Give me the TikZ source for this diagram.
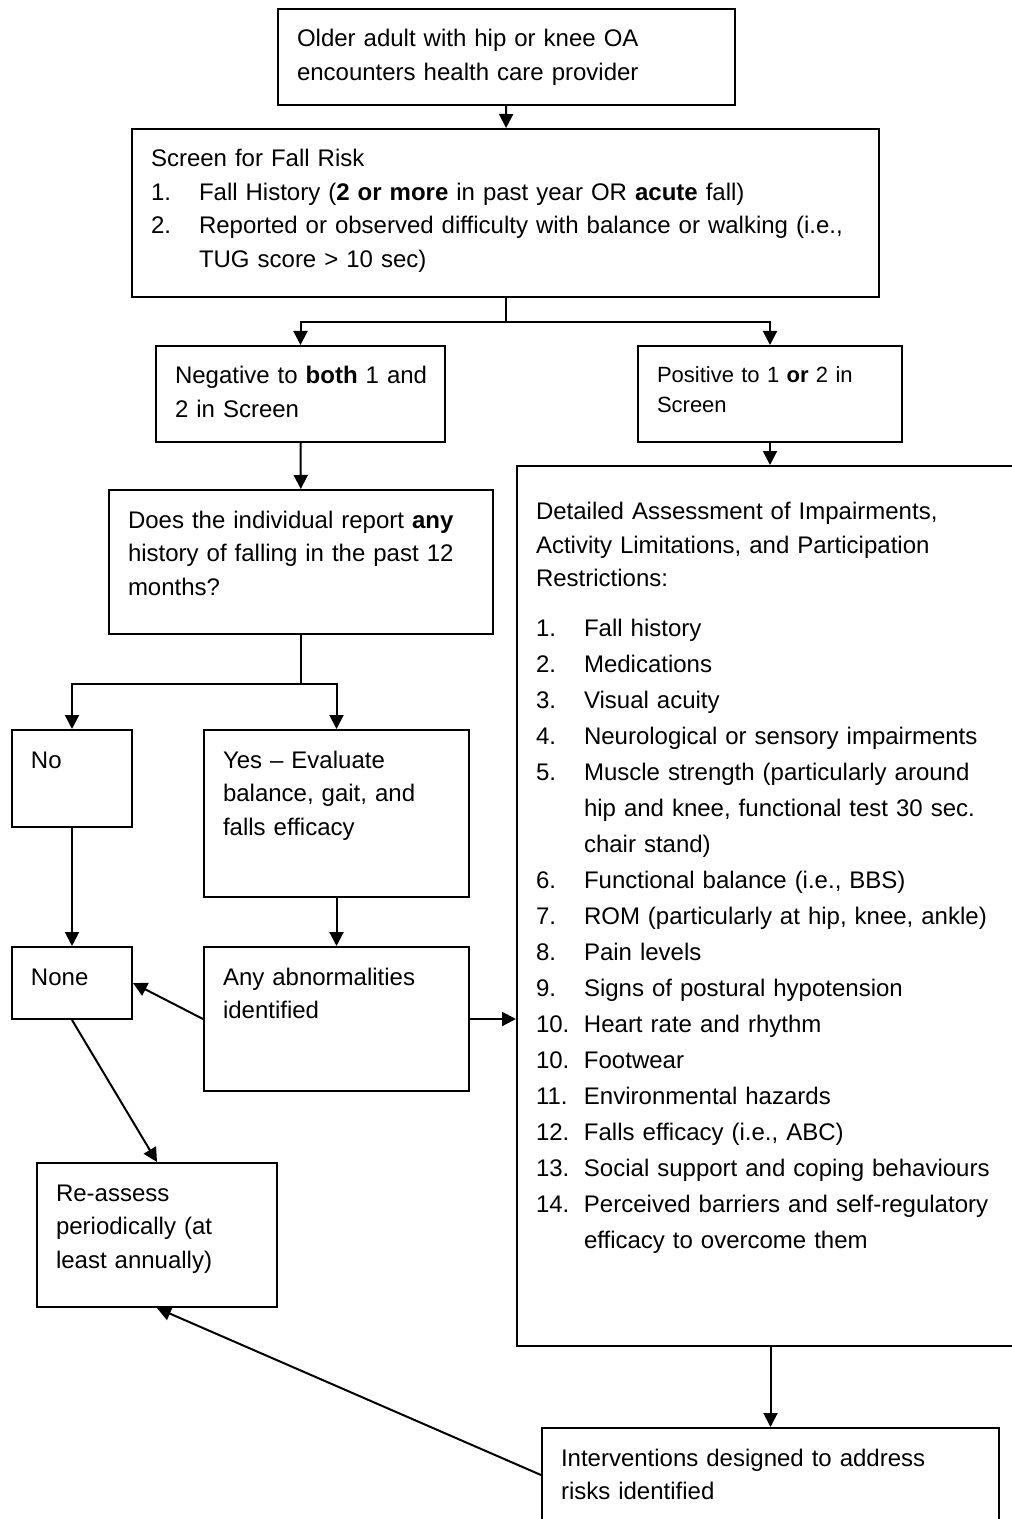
\documentclass[tikz,border=0pt]{standalone}
\usepackage{fontspec}
\setmainfont{Liberation Sans}
\usetikzlibrary{arrows.meta}

\newcommand{\itm}[2]{\makebox[24pt][l]{#1}#2}
\newcommand{\cont}{\hspace*{24pt}}

\begin{document}
\begin{tikzpicture}[x=0.5pt,y=-0.5pt,
  >={Triangle[length=7pt,width=7pt]},
  flowbox/.style={draw,line width=1pt,anchor=north west,align=left,
    inner xsep=9.5pt,inner ysep=10pt,text height=9pt,
    font=\fontsize{12}{16.75}\selectfont},
  flowline/.style={->,line width=1pt}]
\useasboundingbox (0,0) rectangle (1011,1519);

\node[flowbox,text width=209.5pt,text depth=19pt] (older) at (277,8)
  {Older adult with hip or knee OA\\encounters health care provider};
\node[flowbox,text width=354.5pt,text depth=55pt] (screen) at (131,128)
  {Screen for Fall Risk\\
   \itm{1.}{Fall History (\textbf{2 or more} in past year OR \textbf{acute} fall)}\\
   \itm{2.}{Reported or observed difficulty with balance or walking (i.e.,}\\
   \cont TUG score > 10 sec)};

\node[flowbox,text width=125.5pt,text depth=19pt] (negative) at (155,345)
  {\mbox{Negative to \textbf{both} 1 and}\\2 in Screen};
\node[flowbox,text width=113pt,text height=8pt,text depth=20pt,
  font=\fontsize{11}{15}\selectfont] (positive) at (637,345)
  {Positive to 1 \textbf{or} 2 in\\Screen};

\node[flowbox,text width=173pt,text depth=43pt] (history) at (108,489)
  {Does the individual report \textbf{any}\\history of falling in the past 12\\months?};

% detailed assessment, runs off the right edge
\node[flowbox,text width=246pt,text height=16.8pt,text depth=403.2pt,
  font=\fontsize{12}{18}\selectfont] (assess) at (516,465)
  {Detailed Assessment of Impairments,\\[-1.25pt]
   Activity Limitations, and Participation\\[-1.25pt]
   Restrictions:\\[7pt]
   \itm{1.}{Fall history}\\
   \itm{2.}{Medications}\\
   \itm{3.}{Visual acuity}\\
   \itm{4.}{Neurological or sensory impairments}\\
   \itm{5.}{Muscle strength (particularly around}\\
   \cont hip and knee, functional test 30 sec.\\
   \cont chair stand)\\
   \itm{6.}{Functional balance (i.e., BBS)}\\
   \itm{7.}{ROM (particularly at hip, knee, ankle)}\\
   \itm{8.}{Pain levels}\\
   \itm{9.}{Signs of postural hypotension}\\
   \itm{10.}{Heart rate and rhythm}\\
   \itm{10.}{Footwear}\\
   \itm{11.}{Environmental hazards}\\
   \itm{12.}{Falls efficacy (i.e., ABC)}\\
   \itm{13.}{Social support and coping behaviours}\\
   \itm{14.}{Perceived barriers and self-regulatory}\\
   \cont efficacy to overcome them};

\node[flowbox,text width=41pt,text depth=19.5pt] (no) at (11,729) {No};
\node[flowbox,text width=113.5pt,text depth=54.5pt] (yes) at (203,729)
  {Yes -- Evaluate\\balance, gait, and\\falls efficacy};
\node[flowbox,text width=41pt,text depth=7pt] (none) at (11,946) {None};
\node[flowbox,text width=113.5pt,text depth=43pt] (abnormal) at (203,946)
  {Any abnormalities\\identified};
\node[flowbox,text width=101pt,text depth=43pt] (reassess) at (36,1162)
  {Re-assess\\periodically (at\\least annually)};
\node[flowbox,text width=209.5pt,text depth=18pt] (interv) at (541,1427)
  {Interventions designed to address\\risks identified};

\draw[line width=1pt] (screen.south) -- ++(0,24) coordinate (fork1);
\draw[line width=1pt] (history.south) -- ++(0,49) coordinate (fork2);

\draw[flowline] (older) -- (screen);
\draw[flowline] (fork1) -| (negative.north);
\draw[flowline] (fork1) -| (positive.north);
\draw[flowline] (negative) -- (history);
\draw[flowline] (positive.south) -- (positive.south |- assess.north);
\draw[flowline] (fork2) -| (no.north);
\draw[flowline] (fork2) -| (yes.north);
\draw[flowline] (no) -- (none);
\draw[flowline] (yes) -- (abnormal);
\draw[flowline] (abnormal.west) -- (none.east);
\draw[flowline] (abnormal.east) -- (abnormal.east -| assess.west);
\draw[flowline] (none.south) -- (reassess.north);
\draw[flowline] (interv.north |- assess.south) -- (interv.north);
\draw[flowline] (interv.west) -- (reassess.south);

\end{tikzpicture}
\end{document}
